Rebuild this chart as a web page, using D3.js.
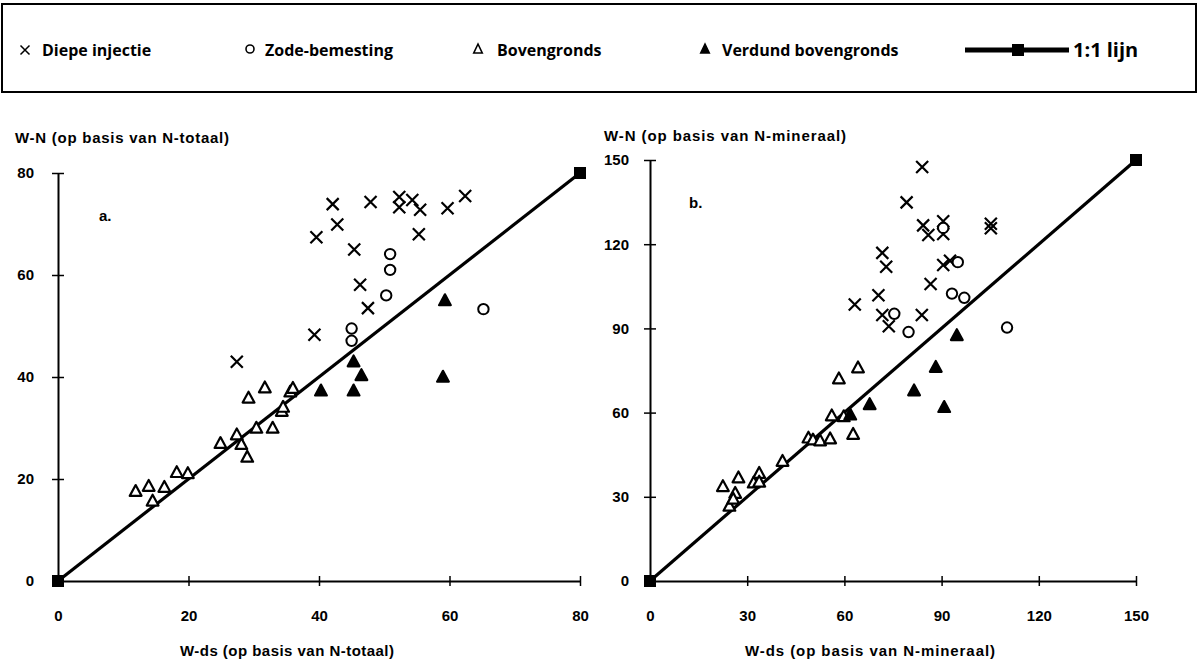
<!DOCTYPE html>
<html>
<head>
<meta charset="utf-8">
<script src="https://cdn.jsdelivr.net/npm/d3@7"></script>
<style>
  body { margin: 0; background: #fff; }
  svg { display: block; }
  .tick text, .ttl { font-family: "Liberation Sans", Arial, sans-serif; font-weight: bold; fill: #000; }
  .leg { font-family: "Open Sans", "Noto Sans", sans-serif; font-weight: bold; fill: #000; }
</style>
</head>
<body>
<svg id="chart" width="1199" height="659"></svg>
<script>
// Chart a: N-totaal  [W-ds, W-N]
const diepeA = [[27.4,43.0],[39.3,48.3],[39.6,67.4],[42.1,73.9],[42.8,69.9],[45.4,65.0],[46.3,58.1],[47.5,53.5],
  [47.9,74.3],[52.3,75.3],[52.3,73.3],[54.3,74.7],[55.5,72.8],[55.3,68.0],[59.7,73.1],[62.4,75.5]];
const zodeA = [[50.9,64.1],[50.9,61.0],[50.3,56.0],[45.0,49.5],[45.0,47.1],[65.2,53.3]];
const bovenA = [[11.9,17.6],[13.9,18.6],[14.5,15.7],[16.3,18.4],[18.2,21.3],[19.9,21.1],[24.9,27.0],[27.4,28.7],
  [28.1,26.8],[29.0,24.3],[29.2,35.9],[30.4,30.0],[31.7,37.9],[32.9,30.0],[34.3,33.3],[34.5,34.1],[35.6,37.1],[36.0,37.8]];
const verdundA = [[40.3,37.3],[45.3,43.0],[45.3,37.3],[46.5,40.3],[59.0,40.0],[59.3,55.0]];

// Chart b: N-mineraal
const diepeB = [[84.0,147.5],[79.2,134.9],[84.3,126.7],[85.9,123.3],[90.5,128.2],[90.5,123.6],[105.2,127.3],[105.2,125.7],
  [71.7,116.9],[72.9,112.0],[90.5,112.6],[92.6,114.1],[86.6,105.8],[70.5,101.8],[63.2,98.5],[71.7,94.8],[73.7,90.8],[83.9,94.8]];
const zodeB = [[90.5,125.8],[95.0,113.6],[93.2,102.4],[97.0,100.9],[75.4,95.2],[79.8,88.7],[110.2,90.3]];
const bovenB = [[22.5,33.7],[27.3,36.8],[26.3,31.3],[24.5,26.7],[25.7,29.2],[32.0,35.0],[33.7,38.4],[33.7,35.3],[40.9,42.7],
  [48.9,51.0],[50.3,50.3],[52.5,50.0],[55.6,50.7],[56.1,58.9],[59.8,58.6],[58.3,72.1],[64.2,76.0],[62.7,52.3]];
const verdundB = [[61.8,59.2],[67.8,62.9],[81.5,67.8],[88.2,76.2],[90.8,61.9],[94.7,87.5]];

const ticksA = [0, 20, 40, 60, 80];
const ticksB = [0, 30, 60, 90, 120, 150];
const legendLabels = ["Diepe injectie", "Zode-bemesting", "Bovengronds", "Verdund bovengronds", "1:1 lijn"];

const svg = d3.select("#chart");

// legend box
svg.append("rect").attr("x", 2).attr("y", 4).attr("width", 1194).attr("height", 88)
  .attr("fill", "none").attr("stroke", "#000").attr("stroke-width", 2);

function marker(g, type, x, y, s) {
  if (type === "cross") {
    g.append("path").attr("d", `M${x-s},${y-s}L${x+s},${y+s}M${x-s},${y+s}L${x+s},${y-s}`)
      .attr("stroke", "#000").attr("stroke-width", 2.2).attr("fill", "none");
  } else if (type === "circle") {
    g.append("circle").attr("cx", x).attr("cy", y).attr("r", s)
      .attr("fill", "#fff").attr("stroke", "#000").attr("stroke-width", 2);
  } else if (type === "tri" || type === "ftri") {
    g.append("path").attr("d", `M${x},${y-s}L${x+s*0.95},${y+s*0.75}L${x-s*0.95},${y+s*0.75}Z`)
      .attr("fill", type === "ftri" ? "#000" : "#fff").attr("stroke", "#000")
      .attr("stroke-width", 2.2).attr("stroke-linejoin", "round");
  }
}

// legend items
const leg = svg.append("g");
const legY = 50;
const legItems = [
  {type: "cross", mx: 25, tx: 42, s: 4.5},
  {type: "circle", mx: 250, tx: 265, s: 4},
  {type: "tri", mx: 478, tx: 497, s: 5},
  {type: "ftri", mx: 705, tx: 722, s: 5}
];
legItems.forEach((d, i) => {
  const g = leg.append("g");
  if (d.type === "cross") {
    g.append("path").attr("d", `M${d.mx-d.s},${legY-d.s}L${d.mx+d.s},${legY+d.s}M${d.mx-d.s},${legY+d.s}L${d.mx+d.s},${legY-d.s}`)
      .attr("stroke", "#000").attr("stroke-width", 1.5);
  } else if (d.type === "circle") {
    g.append("circle").attr("cx", d.mx).attr("cy", legY - 1).attr("r", d.s)
      .attr("fill", "none").attr("stroke", "#000").attr("stroke-width", 1.6);
  } else {
    g.append("path").attr("d", `M${d.mx},${legY-d.s-1}L${d.mx+d.s*0.85},${legY+d.s*0.6}L${d.mx-d.s*0.85},${legY+d.s*0.6}Z`)
      .attr("fill", d.type === "ftri" ? "#000" : "#fff").attr("stroke", "#000").attr("stroke-width", 1.6);
  }
  leg.append("text").attr("class", "leg").attr("x", d.tx).attr("y", legY + 6)
    .style("font-size", "16px").text(legendLabels[i]);
});
leg.append("line").attr("x1", 965).attr("x2", 1069).attr("y1", legY).attr("y2", legY)
  .attr("stroke", "#000").attr("stroke-width", 5);
leg.append("rect").attr("x", 1012).attr("y", legY - 6).attr("width", 12).attr("height", 12).attr("fill", "#000");
leg.append("text").attr("class", "leg").attr("x", 1073).attr("y", legY + 7)
  .style("font-size", "20px").text(legendLabels[4]);

function panel(opt) {
  const x = d3.scaleLinear().domain([0, opt.max]).range(opt.xr);
  const y = d3.scaleLinear().domain([0, opt.max]).range(opt.yr);
  const g = svg.append("g");

  const xAxis = g.append("g").attr("transform", `translate(0,${opt.yr[0]})`)
    .call(d3.axisBottom(x).tickValues(opt.ticks).tickSize(0).tickPadding(29).tickFormat(d3.format("d")));
  xAxis.selectAll(".tick line").attr("y1", -5).attr("y2", 5).attr("stroke-width", 1.5);
  const yAxis = g.append("g").attr("transform", `translate(${opt.xr[0]},0)`)
    .call(d3.axisLeft(y).tickValues(opt.ticks).tickSize(0).tickPadding(opt.ypad).tickFormat(d3.format("d")));
  yAxis.selectAll(".tick line").attr("x1", -6).attr("x2", 6).attr("stroke-width", 1.5);
  g.selectAll(".domain").attr("stroke-width", 2);
  g.selectAll(".tick text").style("font-size", "15px");
  g.selectAll("g").attr("font-family", null).attr("font-size", null);

  // 1:1 line
  g.append("line").attr("x1", x(0)).attr("y1", y(0)).attr("x2", x(opt.max)).attr("y2", y(opt.max))
    .attr("stroke", "#000").attr("stroke-width", 3.2);
  [0, opt.max].forEach(v => {
    g.append("rect").attr("x", x(v) - 6).attr("y", y(v) - 6).attr("width", 12).attr("height", 12).attr("fill", "#000");
  });

  const pts = g.append("g");
  opt.series.forEach(s => {
    s.data.forEach(d => marker(pts, s.type, x(d[0]), y(d[1]), s.size));
  });

  g.append("text").attr("class", "ttl").attr("x", opt.ytx).attr("y", opt.yty)
    .attr("textLength", opt.ytw).attr("lengthAdjust", "spacing")
    .style("font-size", "15px").text(opt.ytitle);
  g.append("text").attr("class", "ttl").attr("x", opt.xtx).attr("y", 656)
    .attr("textLength", opt.xtw).attr("lengthAdjust", "spacing")
    .style("font-size", "15px").text(opt.xtitle);
  g.append("text").attr("class", "ttl").attr("x", opt.lx).attr("y", opt.ly)
    .style("font-size", "15px").text(opt.label);
}

panel({
  max: 80, ticks: ticksA, xr: [58, 580], yr: [581, 173], ypad: 24,
  ytitle: "W-N (op basis van N-totaal)", ytx: 15, yty: 143, ytw: 214,
  xtitle: "W-ds (op basis van N-totaal)", xtx: 180, xtw: 214,
  label: "a.", lx: 99, ly: 221,
  series: [
    {type: "cross", data: diepeA, size: 6},
    {type: "circle", data: zodeA, size: 5.2},
    {type: "tri", data: bovenA, size: 6.2},
    {type: "ftri", data: verdundA, size: 6.2}
  ]
});

panel({
  max: 150, ticks: ticksB, xr: [650, 1136], yr: [581, 160], ypad: 21,
  ytitle: "W-N (op basis van N-mineraal)", ytx: 604, yty: 141, ytw: 242,
  xtitle: "W-ds (op basis van N-mineraal)", xtx: 745, xtw: 250,
  label: "b.", lx: 689, ly: 208,
  series: [
    {type: "cross", data: diepeB, size: 6},
    {type: "circle", data: zodeB, size: 5.2},
    {type: "tri", data: bovenB, size: 6.2},
    {type: "ftri", data: verdundB, size: 6.2}
  ]
});
</script>
</body>
</html>
